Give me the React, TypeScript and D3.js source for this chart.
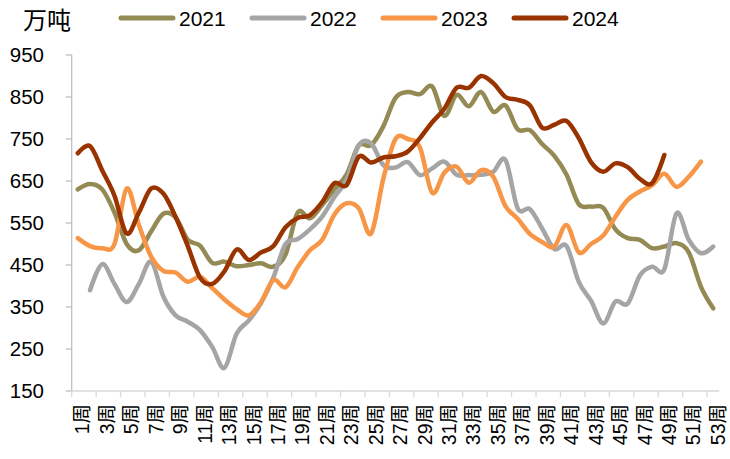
import React from "react";
import * as d3 from "d3";

const weeks: number[] = d3.range(1, 54);
const weekLabels: string[] = weeks.map((w) => `${w}周`);
const yTicks: number[] = [150, 250, 350, 450, 550, 650, 750, 850, 950];
const seriesNames: string[] = ["2021", "2022", "2023", "2024"];
const seriesColors: string[] = ["#948a54", "#a5a5a5", "#f79646", "#993300"];

const s2021: (number | null)[] = [630, 643, 630, 575, 500, 485, 530, 572, 563, 510, 496, 455, 458, 447, 450, 454, 446, 475, 575, 561, 593, 630, 666, 735, 735, 780, 848, 862, 857, 875, 805, 855, 828, 862, 815, 830, 773, 771, 738, 710, 665, 595, 589, 586, 535, 514, 510, 490, 494, 502, 480, 398, 347];
const s2022: (number | null)[] = [null, 390, 452, 405, 362, 405, 458, 375, 330, 315, 295, 255, 205, 287, 318, 360, 420, 500, 512, 535, 565, 612, 653, 735, 740, 688, 682, 695, 664, 680, 696, 665, 664, 665, 672, 700, 585, 583, 537, 488, 495, 410, 365, 311, 363, 358, 425, 446, 440, 573, 510, 478, 494];
const s2023: (number | null)[] = [514, 495, 490, 500, 632, 545, 470, 436, 432, 410, 422, 395, 368, 345, 330, 362, 414, 397, 445, 485, 510, 570, 597, 585, 525, 655, 750, 750, 730, 622, 670, 684, 646, 676, 660, 590, 560, 524, 505, 494, 545, 480, 500, 520, 565, 605, 625, 640, 667, 636, 660, 696];
const s2024: (number | null)[] = [716, 733, 675, 615, 525, 575, 632, 620, 565, 495, 420, 405, 435, 487, 462, 480, 495, 540, 562, 569, 600, 645, 640, 708, 694, 706, 709, 720, 752, 790, 822, 872, 872, 900, 883, 850, 843, 830, 777, 784, 793, 752, 695, 672, 692, 683, 655, 645, 712];

const allSeries = [s2021, s2022, s2023, s2024];

const W = 730;
const H = 459;
const left = 71.7;
const right = 719.3;
const top = 55;
const bottom = 391;

export default function App() {
  const x = d3.scaleBand<number>().domain(weeks).range([left, right]).padding(0);
  const bw = x.bandwidth();
  const y = d3.scaleLinear().domain([150, 950]).range([bottom, top]);
  const cx = (w: number) => (x(w) as number) + bw / 2;

  const line = d3
    .line<{ w: number; v: number | null }>()
    .defined((d) => d.v != null)
    .x((d) => cx(d.w))
    .y((d) => y(d.v as number))
    .curve(d3.curveCardinal.tension(0));

  const labelWeeks = weeks.filter((w) => w % 2 === 1);
  const font = "'Liberation Sans', Arial, 'Noto Sans CJK SC', sans-serif";

  return (
    <svg width={W} height={H} style={{ position: "absolute", left: 0, top: 0, background: "#fff" }}>
      {/* y axis */}
      <line x1={left} x2={left} y1={top} y2={bottom} stroke="#bfbfbf" strokeWidth={1.3} />
      {yTicks.map((t) => (
        <g key={t}>
          <line x1={left - 6} x2={left} y1={y(t)} y2={y(t)} stroke="#bfbfbf" strokeWidth={1.3} />
          <text x={44} y={y(t)} dy="0.36em" textAnchor="end" fontSize={20.5} fontFamily={font} fill="#000">
            {t}
          </text>
        </g>
      ))}
      {/* x axis */}
      <line x1={left} x2={right} y1={bottom} y2={bottom} stroke="#d9d9d9" strokeWidth={1.3} />
      {labelWeeks.map((w) => (
        <g key={w}>
          <line x1={x(w) as number} x2={x(w) as number} y1={bottom} y2={bottom + 6} stroke="#d9d9d9" strokeWidth={1.3} />
          <text
            transform={`translate(${(x(w) as number) + bw - 1.5},404) rotate(-90)`}
            dy="0.36em"
            textAnchor="end"
            fontSize={19.5}
            fontFamily={font}
            fill="#000"
          >
            {weekLabels[w - 1]}
          </text>
        </g>
      ))}
      {/* series */}
      {allSeries.map((s, i) => (
        <path
          key={seriesNames[i]}
          d={line(s.map((v, j) => ({ w: weeks[j], v }))) || ""}
          fill="none"
          stroke={seriesColors[i]}
          strokeWidth={4.5}
          strokeLinejoin="round"
          strokeLinecap="round"
        />
      ))}
      {/* unit */}
      <text x={23} y={20} dy="0.38em" fontSize={24} fontFamily="'Noto Sans CJK SC', sans-serif" fill="#000">
        万吨
      </text>
      {/* legend */}
      {seriesNames.map((n, i) => {
        const lx = 121 + i * 131;
        return (
          <g key={n}>
            <line x1={lx} x2={lx + 52} y1={18} y2={18} stroke={seriesColors[i]} strokeWidth={5} strokeLinecap="round" />
            <text x={lx + 58} y={18} dy="0.36em" fontSize={21} fontFamily={font} fill="#000">
              {n}
            </text>
          </g>
        );
      })}
    </svg>
  );
}
